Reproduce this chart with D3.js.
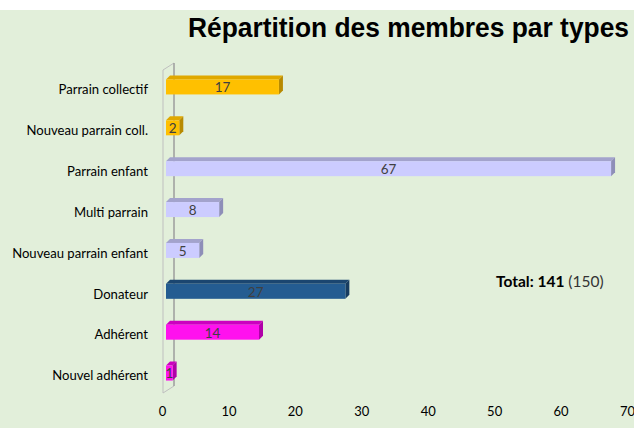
<!DOCTYPE html>
<html><head><meta charset="utf-8">
<script src="https://cdn.jsdelivr.net/npm/d3@7"></script>
<style>body{margin:0;background:#fff;} svg{display:block;}</style>
</head><body>
<script>
const categories = ["Parrain collectif","Nouveau parrain coll.","Parrain enfant","Multi parrain","Nouveau parrain enfant","Donateur","Adhérent","Nouvel adhérent"];
const values = [17, 2, 67, 8, 5, 27, 14, 1];
const groups = ["collectif","collectif","enfant","enfant","enfant","donateur","adherent","adherent"];
const ticks = [0,10,20,30,40,50,60,70];
const titleText = "Répartition des membres par types";
const totalValue = 141, totalTarget = 150;

const palette = {
  collectif: {front:"#FFC000", top:"#E0A800", side:"#B88A00"},
  enfant:    {front:"#CCCCFF", top:"#A3A3CC", side:"#8E8EB8"},
  donateur:  {front:"#245C91", top:"#1B4670", side:"#173C60"},
  adherent:  {front:"#FF11EE", top:"#CC00C0", side:"#B000A8"}
};

const W=634, H=428;
const svg = d3.select("body").append("svg").attr("width",W).attr("height",H);
svg.append("rect").attr("x",0).attr("y",10).attr("width",W).attr("height",H-10).attr("fill","#E2EFDA");

const x = d3.scaleLinear().domain([0,70]).range([162,627]);
const y = d3.scaleBand().domain(categories).range([69,396]);

// wall
const dx=11, dy=-7;
const wall = svg.append("g").attr("fill","none");
wall.append("path").attr("d",`M${x(0)+1},${y.range()[0]+1} L${x(0)+1},${y.range()[1]-3} L${x(0)+1+dx},${y.range()[1]-3+dy} L${x(0)+1+dx},${y.range()[0]+1+dy} Z`)
  .attr("stroke","#BFBFBF").attr("stroke-width",1);
wall.append("line").attr("x1",x(0)+1+dx).attr("x2",x(0)+1+dx).attr("y1",y.range()[0]+1+dy).attr("y2",y.range()[1]-3+dy).attr("stroke","#8C8C8C");

// bars
const off=4, bh=15, td=4, sd=4;
const bars = svg.append("g").selectAll("g").data(categories).join("g");
bars.each(function(c,i){
  const g=d3.select(this);
  const cy=y(c)+y.bandwidth()/2;
  const x0=x(0)+off, x1=x(values[i])+off;
  const yt=cy-10, yb=yt+bh;
  const col=palette[groups[i]];
  g.append("path").attr("d",`M${x0},${yt} L${x0+td},${yt-td} L${x1+sd},${yt-td} L${x1},${yt} Z`).attr("fill",col.top);
  g.append("path").attr("d",`M${x1},${yt} L${x1+sd},${yt-td} L${x1+sd},${yb-td} L${x1},${yb} Z`).attr("fill",col.side);
  g.append("rect").attr("x",x0).attr("y",yt).attr("width",x1-x0).attr("height",bh).attr("fill",col.front);
  g.append("text").attr("x",(x0+x1)/2).attr("y",yt+bh/2+0.5).attr("dy","0.36em")
    .attr("text-anchor","middle").attr("font-family","Lato, 'Open Sans', sans-serif").attr("font-size",13.5)
    .attr("fill","#404040").text(values[i]);
});

// category labels
svg.append("g").selectAll("text").data(categories).join("text")
  .attr("x",148).attr("y",c=>y(c)+y.bandwidth()/2).attr("dy","0.36em")
  .attr("text-anchor","end").attr("font-family","Lato, 'Open Sans', sans-serif").attr("font-size",13.1)
  .attr("fill","#000").text(c=>c);

// x axis labels
const ax = svg.append("g").attr("transform","translate(0,411)");
const axis = d3.axisBottom(x).tickValues(ticks).tickSize(0).tickPadding(0).tickFormat(d3.format("d"));
ax.call(axis);
ax.select(".domain").remove();
ax.selectAll("text").attr("font-family","Lato, 'Open Sans', sans-serif").attr("font-size",13).attr("fill","#000").attr("dy","0.36em").attr("y",0);

// title
svg.append("text").attr("x",629).attr("y",37).attr("text-anchor","end")
  .attr("font-family","'Liberation Sans', Arial, sans-serif").attr("font-weight","bold").attr("font-size",27)
  .attr("textLength",441).attr("lengthAdjust","spacingAndGlyphs")
  .attr("fill","#000").text(titleText);

// total
const t = svg.append("text").attr("x",496).attr("y",287).attr("font-family","Lato, 'Open Sans', sans-serif").attr("font-size",15.5).attr("fill","#000");
t.append("tspan").attr("font-weight","bold").text(`Total: ${totalValue}`);
t.append("tspan").attr("fill","#333").text(` (${totalTarget})`);
</script>
</body></html>
